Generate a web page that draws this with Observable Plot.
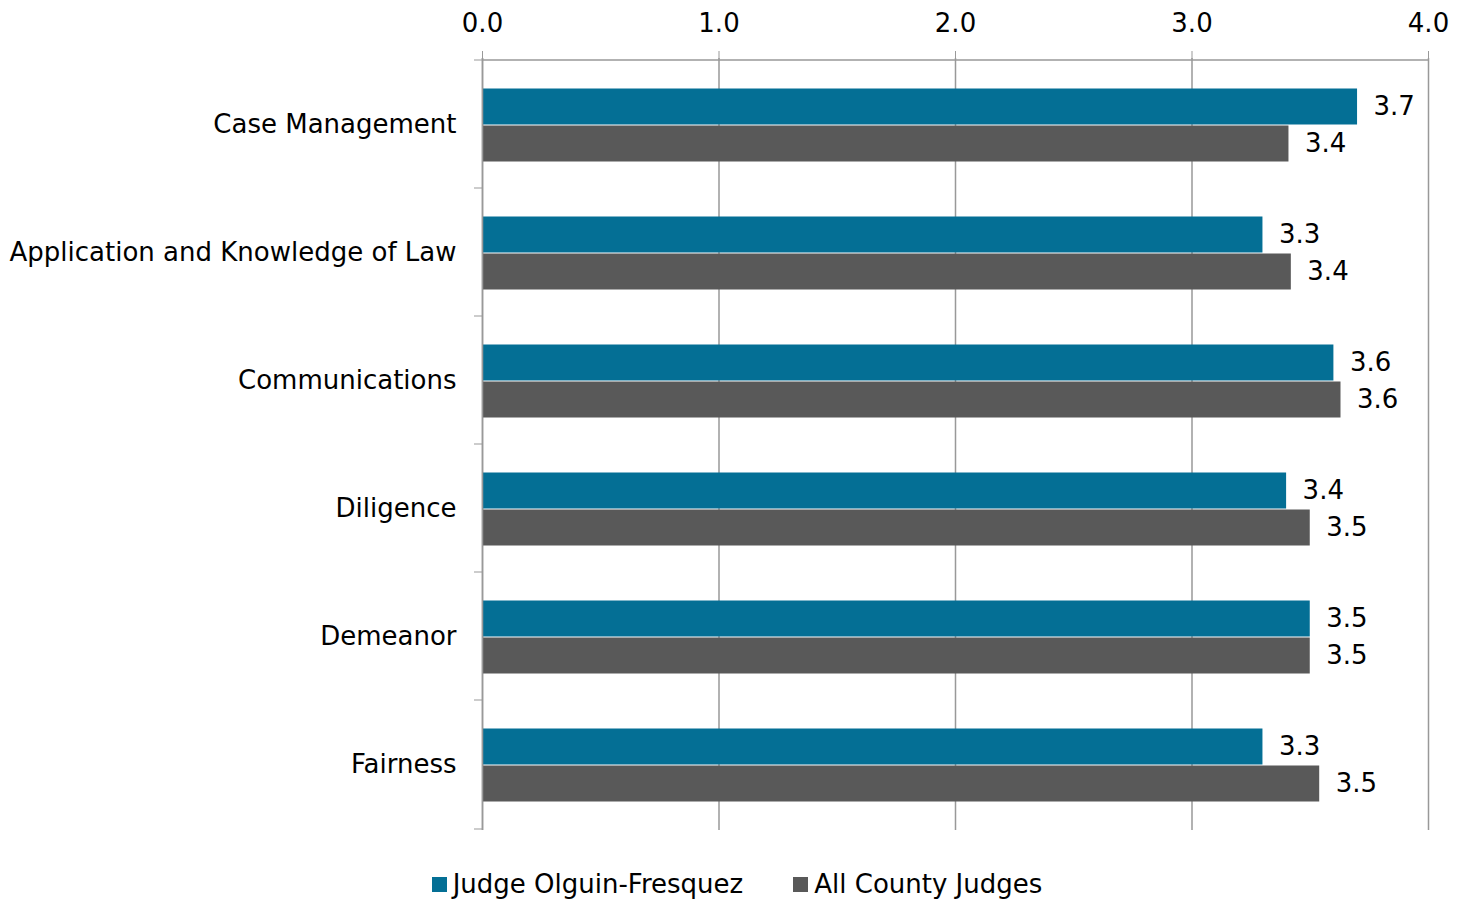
<!DOCTYPE html>
<html>
<head>
<meta charset="utf-8">
<script src="https://cdn.jsdelivr.net/npm/d3@7"></script>
<script src="https://cdn.jsdelivr.net/npm/@observablehq/plot@0.6"></script>
<style>
  html, body { margin: 0; padding: 0; background: #fff; }
  body { width: 1468px; height: 903px; font-family: "DejaVu Sans", sans-serif; }
  #legend { display: flex; justify-content: center; gap: 50px; font-size: 26px; color: #000; margin-top: 19px; padding-left: 6px; }
  .item { display: flex; align-items: center; }
  .sw { width: 15px; height: 15px; margin-right: 6px; display: inline-block; }
</style>
</head>
<body>
<div id="chart"></div>
<div id="legend"></div>
<script>
const categories = ["Case Management", "Application and Knowledge of Law", "Communications", "Diligence", "Demeanor", "Fairness"];
const seriesNames = ["Judge Olguin-Fresquez", "All County Judges"];
const judgeValues = [3.70, 3.30, 3.60, 3.40, 3.50, 3.30];
const allValues = [3.41, 3.42, 3.63, 3.50, 3.50, 3.54];
const judgeLabels = ["3.7", "3.3", "3.6", "3.4", "3.5", "3.3"];
const allLabels = ["3.4", "3.4", "3.6", "3.5", "3.5", "3.5"];
const xTicks = [0, 1, 2, 3, 4];
const colors = ["#046F95", "#595959"];

const judge = categories.map((c, i) => ({category: c, value: judgeValues[i], label: judgeLabels[i]}));
const all = categories.map((c, i) => ({category: c, value: allValues[i], label: allLabels[i]}));

const font = "DejaVu Sans, sans-serif";
const chart = Plot.plot({
  width: 1468,
  height: 850,
  marginLeft: 482,
  marginRight: 40,
  marginTop: 58,
  marginBottom: 20,
  style: {fontFamily: font, fontSize: "26px", color: "#000", background: "#fff"},
  x: {domain: [0, 4], axis: null},
  y: {domain: categories, padding: 0, axis: null},
  marks: [
    Plot.gridX(xTicks, {stroke: "#999", strokeOpacity: 1, strokeWidth: 1.5}),
    Plot.barX(judge, {x: "value", y: "category", fill: colors[0], insetTop: 28.5, insetBottom: 63.5}),
    Plot.barX(all, {x: "value", y: "category", fill: colors[1], insetTop: 65.5, insetBottom: 26.5}),
    Plot.text(judge, {x: "value", y: "category", text: "label", textAnchor: "start", dx: 16, dy: -18, fill: "#000"}),
    Plot.text(all, {x: "value", y: "category", text: "label", textAnchor: "start", dx: 16, dy: 19, fill: "#000"}),
    Plot.ruleX([0], {stroke: "#999", strokeWidth: 1.5}),
    Plot.axisX({anchor: "top", ticks: xTicks, tickSize: 8, stroke: "#999", tickFormat: null, text: null, label: null}),
    Plot.axisX({anchor: "top", ticks: xTicks, tickFormat: d3.format(".1f"), tickSize: 0, tickPadding: 0, dy: -27, fontSize: 26, label: null}),
    Plot.ruleY([categories[0]], {stroke: "#999", strokeWidth: 1.5, dy: -64.5, x1: 0, x2: 4}),
    Plot.axisY({anchor: "left", tickSize: 8, tickFormat: () => "", stroke: "#999", dy: -64.5, label: null}),
    Plot.axisY({anchor: "left", ticks: [categories[categories.length - 1]], tickSize: 8, tickFormat: () => "", stroke: "#999", dy: 64.5, label: null}),
    Plot.axisY({anchor: "left", tickSize: 0, tickPadding: 26, fontSize: 26, label: null})
  ]
});
document.getElementById("chart").appendChild(chart);

const legend = document.getElementById("legend");
seriesNames.forEach((n, i) => {
  const it = document.createElement("div");
  it.className = "item";
  const sw = document.createElement("span");
  sw.className = "sw";
  sw.style.background = colors[i];
  it.appendChild(sw);
  it.appendChild(document.createTextNode(n));
  legend.appendChild(it);
});
</script>
</body>
</html>
